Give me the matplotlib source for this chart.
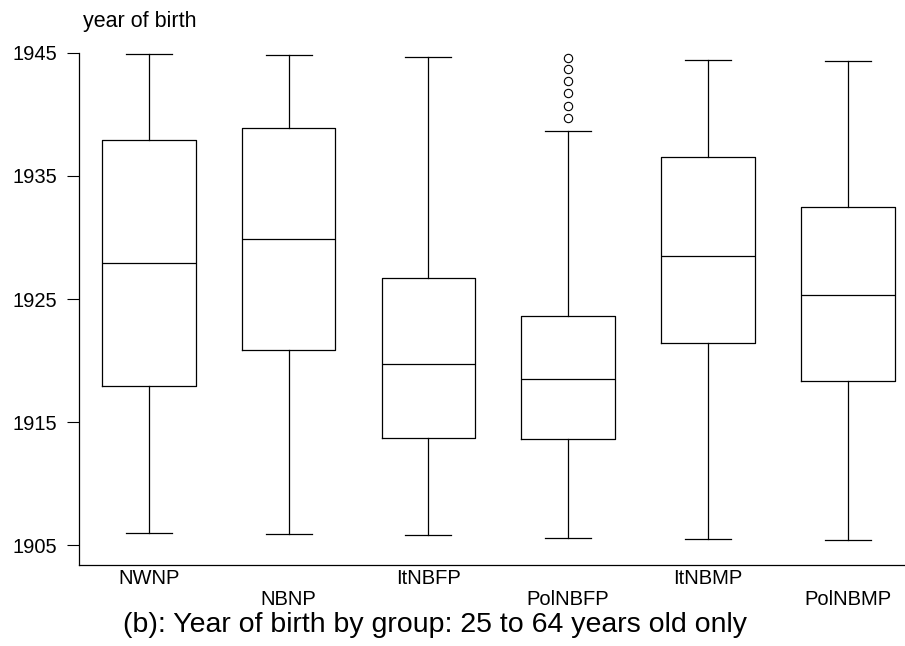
import matplotlib.pyplot as plt

plt.rcParams['font.family'] = ['Liberation Sans', 'DejaVu Sans']

# values
groups = ['NWNP', 'NBNP', 'ItNBFP', 'PolNBFP', 'ItNBMP', 'PolNBMP']
whis_lo = [1906.0, 1905.9, 1905.8, 1905.6, 1905.55, 1905.45]
q1 = [1917.95, 1920.85, 1913.7, 1913.6, 1921.45, 1918.35]
medians = [1927.95, 1929.85, 1919.7, 1918.5, 1928.5, 1925.35]
q3 = [1937.95, 1938.85, 1926.7, 1923.6, 1936.5, 1932.45]
whis_hi = [1944.9, 1944.8, 1944.65, 1938.65, 1944.4, 1944.35]
outliers = [[], [], [], [1939.7, 1940.7, 1941.7, 1942.7, 1943.65, 1944.6], [], []]
year_ticks = [1905, 1915, 1925, 1935, 1945]

stats = []
for i, name in enumerate(groups):
    stats.append({
        'label': name,
        'whislo': whis_lo[i],
        'q1': q1[i],
        'med': medians[i],
        'q3': q3[i],
        'whishi': whis_hi[i],
        'fliers': outliers[i],
    })

fig = plt.figure(figsize=(9.05, 6.46), dpi=100)
ax = fig.add_axes([0.0873, 0.1254, 0.9127, 0.793])

line = dict(color='black', linewidth=0.9)
positions = list(range(1, len(groups) + 1))
ax.bxp(stats, positions=positions, widths=0.67, capwidths=0.33,
       boxprops=line, whiskerprops=line, capprops=line, medianprops=line,
       flierprops=dict(marker='o', markersize=6, markerfacecolor='none',
                       markeredgecolor='black', markeredgewidth=0.8, clip_on=False))

ax.set_xlim(0.5, 6.41)
ax.set_ylim(1903.4, 1945)
ax.set_yticks(year_ticks)
ax.set_yticklabels([str(y) for y in year_ticks], fontsize=14.5)
ax.tick_params(axis='y', length=8.5, width=0.8, pad=7.5)

# stagger the group names like the original
xlabels = [g if i % 2 == 0 else '\n' + g for i, g in enumerate(groups)]
ax.set_xticks(positions)
ax.set_xticklabels(xlabels, fontsize=14.5, linespacing=1.1)
ax.tick_params(axis='x', length=0, pad=3)

for side in ['top', 'right']:
    ax.spines[side].set_visible(False)
for side in ['left', 'bottom']:
    ax.spines[side].set_linewidth(0.9)

fig.text(0.0913, 0.966, 'year of birth', fontsize=15.5, ha='left', va='center')
fig.text(0.481, 0.0325, '(b): Year of birth by group: 25 to 64 years old only',
         fontsize=20.5, ha='center', va='center')

plt.savefig('out.png', dpi=100)
